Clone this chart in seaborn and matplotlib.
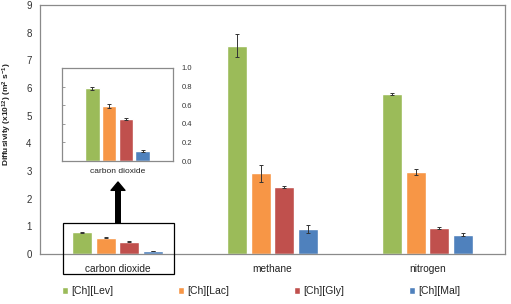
import pandas as pd
import numpy as np
import seaborn as sns
import matplotlib.pyplot as plt
from matplotlib.patches import Rectangle

# データ
gases = ["carbon dioxide", "methane", "nitrogen"]
liquids = ["[Ch][Lev]", "[Ch][Lac]", "[Ch][Gly]", "[Ch][Mal]"]
colors = ["#9BBB59", "#F79646", "#C0504D", "#4F81BD"]

# diffusivity (x10^12 m2/s), one list per liquid, order = gases
lev = [0.78, 7.53, 5.78]
lac = [0.59, 2.92, 2.97]
gly = [0.45, 2.43, 0.94]
mal = [0.11, 0.91, 0.70]

lev_err = [0.02, 0.42, 0.03]
lac_err = [0.02, 0.30, 0.10]
gly_err = [0.01, 0.03, 0.04]
mal_err = [0.01, 0.15, 0.05]

values = [lev, lac, gly, mal]
errors = [lev_err, lac_err, gly_err, mal_err]

df = pd.DataFrame({
    "gas": gases * 4,
    "liquid": [l for l in liquids for _ in gases],
    "D": sum(values, []),
    "err": sum(errors, []),
})

sns.set_style("white")
plt.rcParams["font.family"] = ["Liberation Sans", "DejaVu Sans"]
plt.rcParams["mathtext.default"] = "regular"

fig = plt.figure(figsize=(5.11, 3.04), dpi=100)
ax = fig.add_axes([40 / 511, 1 - 254 / 304, 465 / 511, 249 / 304])

sns.barplot(data=df, x="gas", y="D", hue="liquid", order=gases, hue_order=liquids,
            palette=colors, width=0.61, gap=0.15, errorbar=None, saturation=1,
            ax=ax)


def add_err(a, sub):
    # error bars on top of each bar container
    for cont, liq in zip(a.containers, liquids):
        e = sub[sub["liquid"] == liq]["err"].values
        xs = [b.get_x() + b.get_width() / 2 for b in cont]
        ys = [b.get_height() for b in cont]
        a.errorbar(xs, ys, yerr=e, fmt="none", ecolor="#333333",
                   elinewidth=0.7, capsize=1.5, capthick=0.7)


add_err(ax, df)

ax.set_ylim(0, 9)
ax.set_yticks(range(0, 10))
ax.set_xlim(-0.5, 2.5)
ax.set_xlabel("")
ax.set_ylabel("Diffusivity (x10$^{12}$) (m$^{2}$ s$^{-1}$)", fontsize=6,
              fontweight="bold", color="#222222")
ax.yaxis.set_label_coords(-0.055, 0.56)
for s in ax.spines.values():
    s.set_color("#8a8a8a")
    s.set_linewidth(0.9)
ax.tick_params(axis="y", direction="in", length=2.5, width=0.7, colors="#8a8a8a",
               labelcolor="#333333", labelsize=7, pad=6)
ax.tick_params(axis="x", which="major", length=0, labelsize=7.3,
               labelcolor="#222222", pad=7)
ax.set_xticks([0.5, 1.5], minor=True)
ax.tick_params(axis="x", which="minor", direction="out", length=3, width=0.7,
               colors="#8a8a8a")

# legend
handles, labels = ax.get_legend_handles_labels()
ax.get_legend().remove()
fig.legend(handles, labels, loc="center", bbox_to_anchor=(261 / 511, 1 - 291 / 304),
           ncol=4, frameon=False, fontsize=7.5, handlelength=0.6, handleheight=0.6,
           handletextpad=0.3, columnspacing=6.2, labelcolor="#222222")

# === inset (carbon dioxide zoom) ===
co2 = df[df["gas"] == "carbon dioxide"]
ax_in = fig.add_axes([62 / 511, 1 - 161 / 304, 111 / 511, 93 / 304])
sns.barplot(data=co2, x="gas", y="D", hue="liquid", hue_order=liquids,
            palette=colors, width=0.61, gap=0.12, errorbar=None, saturation=1,
            legend=False, ax=ax_in)
add_err(ax_in, co2)
ax_in.set_xlim(-0.5, 0.5)
ax_in.set_ylim(0, 1.0)
ax_in.set_yticks(np.arange(0, 1.01, 0.2))
ax_in.set_yticklabels([f"{v:.1f}" for v in np.arange(0, 1.01, 0.2)])
ax_in.set_xlabel("")
ax_in.set_ylabel("")
for s in ax_in.spines.values():
    s.set_color("#8a8a8a")
    s.set_linewidth(0.9)
ax_in.tick_params(axis="y", left=True, right=False, labelleft=False, labelright=True,
                  direction="in", length=2, width=0.6, colors="#8a8a8a",
                  labelcolor="#333333", labelsize=5.5, pad=6)
ax_in.tick_params(axis="x", length=0, labelsize=6, labelcolor="#222222", pad=5)

# box around lower carbon dioxide group + arrow
fig.patches.append(Rectangle((63 / 511, 1 - 274 / 304), 111 / 511, 51 / 304,
                             transform=fig.transFigure, fill=False,
                             edgecolor="black", linewidth=0.9))
ax.annotate("", xy=(118, 304 - 182), xytext=(118, 304 - 223),
            xycoords="figure pixels", textcoords="figure pixels",
            arrowprops=dict(width=3.3, headwidth=10, headlength=6,
                            facecolor="black", edgecolor="black", shrink=0))

fig.savefig("out.png", dpi=100)
